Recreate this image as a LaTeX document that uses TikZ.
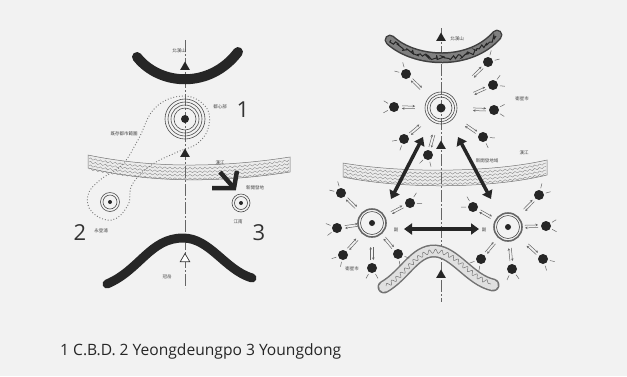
\documentclass[tikz,border=0pt]{standalone}
\usepackage{fontspec}
\setsansfont{Open Sans}
\newfontfamily\cjk{Noto Sans CJK TC}
\usetikzlibrary{calc,arrows.meta,shapes.geometric,decorations.pathmorphing}
\tikzset{
  axisline/.style={black!60, line width=0.6pt, dash pattern=on 12pt off 2pt on 2pt off 2pt},
  mtn/.style={line width=10pt, black!85, line cap=round},
  tri/.style={regular polygon, regular polygon sides=3, fill=black!85, inner sep=0pt, minimum size=11pt},
  otri/.style={regular polygon, regular polygon sides=3, draw=black!80, fill=white, line width=0.7pt, inner sep=0pt, minimum size=11pt},
  ring/.style={draw=black!70, line width=0.6pt},
  sat/.style={circle, fill=black!85, inner sep=0pt, minimum size=10pt},
  lnk/.style={black!60, line width=0.5pt, -{Stealth[length=2.5pt,width=2.5pt]}},
  tick/.style={black!60, line width=0.5pt},
  tiny/.style={font=\cjk\fontsize{4.5}{5}\selectfont, text=black!75, inner sep=0pt},
  num/.style={font=\sffamily\fontsize{22}{24}\selectfont, text=black!80, inner sep=0pt},
  bigarr/.style={line width=3.5pt, black!85, {Triangle[length=8pt,width=11pt]}-{Triangle[length=8pt,width=11pt]}},
  band/.style={draw=black!55, fill=black!8, line width=0.5pt},
  wave/.style={black!45, line width=0.4pt, decorate, decoration={snake, amplitude=0.9pt, segment length=5pt}},
}
\newcommand\satl[2]{%
  \coordinate (A) at ($(#1)!8pt!(#2)$);
  \coordinate (B) at ($(#1)!21pt!(#2)$);
  \draw[lnk] ($(A)!1.3pt!90:(B)$) -- ($(B)!1.3pt!-90:(A)$);
  \draw[lnk] ($(B)!1.3pt!90:(A)$) -- ($(A)!1.3pt!-90:(B)$);
  \draw[tick] ($(#1)!7pt!150:(#2)$) -- ($(#1)!12pt!150:(#2)$);
  \draw[tick] ($(#1)!7pt!210:(#2)$) -- ($(#1)!12pt!210:(#2)$);
}
\begin{document}
\begin{tikzpicture}[x=1pt,y=-1pt]
\useasboundingbox[fill=black!5] (0,0) rectangle (627,376);

% ================= LEFT DIAGRAM =================
% river band
\draw[band] (88,155) .. controls (150,168) and (220,168) .. (290,157)
  -- (290,172) .. controls (220,183) and (150,183) .. (88,168) -- cycle;
\foreach \k in {0,3.5,7,10.5}
  \draw[wave] (89,158.5+\k) .. controls (150,171+\k) and (220,171+\k) .. (289,160+\k);

% axis
\draw[axisline] (185,40) -- (185,288);

% mountains
\draw[mtn] (137,57) .. controls (160,86) and (210,89) .. (238,52);
\draw[mtn, line width=9pt] (107,284) .. controls (140,270) and (150,238) .. (183,238)
  .. controls (210,238) and (225,270) .. (252,278);

% dotted urban region
\draw[black!55, line width=0.9pt, dotted] plot[smooth cycle, tension=0.7] coordinates
  {(183,96) (205,106) (209,125) (198,143) (175,153) (150,166) (132,185) (128,205)
   (112,220) (92,212) (88,195) (100,180) (122,165) (138,140) (155,108)};

% CBD
\coordinate (cL) at (185,119);
\foreach \r in {20,17,14,11} \draw[ring] (cL) circle (\r pt);
\fill[black!85] (cL) circle (4pt);
% Yeongdeungpo
\coordinate (yL) at (110,202);
\foreach \r in {9.5,7} \draw[ring] (yL) circle (\r pt);
\fill[black!85] (yL) circle (2pt);
% Youngdong
\coordinate (dL) at (241,203);
\foreach \r in {9,6.5} \draw[ring] (dL) circle (\r pt);
\fill[black!85] (dL) circle (2pt);

% triangles
\node[tri] (tL1) at (185,67) {};
\node[tri] (tL2) at (185,154) {};
\node[otri] (tL3) at (185,259) {};

% thick arrow toward new development
\coordinate (kA) at (220,172);
\coordinate (kT) at (234,188);
\coordinate (kB) at (237,171);
\coordinate (kC) at (212,188);
\draw[black!85, line width=4.5pt] (kA) -- (kT);
\draw[black!85, line width=4.5pt, line join=miter] (kB) -- (kT) -- (kC);

% labels
\node[tiny] (lL1) at (179,51) {北漢山};
\node[tiny] (lL2) at (220,107) {都心部};
\node[tiny] (lL3) at (124,134) {既存都市範圍};
\node[tiny] (lL4) at (220,163) {漢江};
\node[tiny] (lL5) at (255,188) {新開發地};
\node[tiny] (lL6) at (238,222) {江南};
\node[tiny] (lL7) at (101,231) {永登浦};
\node[tiny] (lL8) at (167,277) {冠岳};
\node[num] (n1) at (243,110) {1};
\node[num] (n2) at (80,233) {2};
\node[num] (n3) at (259,233) {3};

% ================= RIGHT DIAGRAM =================
\draw[band] (343,163) .. controls (400,173) and (490,173) .. (547,160)
  -- (547,175) .. controls (490,189) and (400,189) .. (343,177) -- cycle;
\foreach \k in {0,3.5,7,10.5}
  \draw[wave] (344,166+\k) .. controls (400,176+\k) and (490,176+\k) .. (546,163+\k);

\draw[axisline] (441,28) -- (441,302);

% top mountain (textured)
\draw[line width=11pt, black!75, line cap=round] (390,40) .. controls (415,63) and (470,66) .. (497,35);
\draw[line width=8pt, black!50, line cap=round] (390,40) .. controls (415,63) and (470,66) .. (497,35);
\draw[black!85, line width=1pt, decorate, decoration={random steps, segment length=2pt, amplitude=2.5pt}]
  (391,40) .. controls (415,63) and (470,66) .. (496,36);
% bottom mountain (textured)
\draw[line width=13pt, black!55, line cap=round] (384,287) .. controls (405,275) and (415,250) .. (435,251)
  .. controls (455,252) and (470,280) .. (493,285);
\draw[line width=10pt, black!12, line cap=round] (384,287) .. controls (405,275) and (415,250) .. (435,251)
  .. controls (455,252) and (470,280) .. (493,285);
\draw[black!55, line width=0.5pt, decorate, decoration={snake, segment length=6pt, amplitude=2pt}]
  (386,286) .. controls (405,275) and (415,251) .. (435,252) .. controls (455,253) and (470,280) .. (491,284);

% centres
\coordinate (cR) at (441,108);
\foreach \r in {16,13.5,11} \draw[ring] (cR) circle (\r pt);
\fill[black!85] (cR) circle (4.5pt);
\coordinate (yR) at (372,223);
\draw[draw=black!60, line width=1.6pt] (yR) circle (14pt);
\draw[ring] (yR) circle (11.5pt);
\fill[black!85] (yR) circle (3pt);
\coordinate (dR) at (508,227);
\draw[draw=black!60, line width=1.6pt] (dR) circle (14pt);
\draw[ring] (dR) circle (11.5pt);
\fill[black!85] (dR) circle (3pt);

% triangles
\node[tri] (tR1) at (441,38) {};
\node[tri] (tR2) at (441,146) {};
\node[tri] (tR3) at (441,275) {};

% satellites around CBD
\foreach \n/\p in {c1/{(406,74)}, c2/{(488,62)}, c3/{(493,85)}, c4/{(394,107)},
                   c5/{(494,110)}, c6/{(483,137)}, c7/{(404,139)}, c8/{(428,155)}}{
  \node[sat] (\n) at \p {};
  \satl{\n}{cR}
}
% satellites around Yeongdeungpo
\foreach \n/\p in {y1/{(341,193)}, y2/{(410,203)}, y3/{(337,228)}, y4/{(343,255)},
                   y5/{(372,268)}, y6/{(398,254)}}{
  \node[sat] (\n) at \p {};
  \satl{\n}{yR}
}
% satellites around Youngdong
\foreach \n/\p in {d1/{(473,207)}, d2/{(539,195)}, d3/{(546,226)}, d4/{(543,259)},
                   d5/{(512,269)}, d6/{(481,259)}}{
  \node[sat] (\n) at \p {};
  \satl{\n}{dR}
}

% big arrows
\coordinate (bL1) at (391,199);
\coordinate (bL2) at (423,137);
\coordinate (bR1) at (458,137);
\coordinate (bR2) at (491,199);
\coordinate (bH1) at (404,229);
\coordinate (bH2) at (479,229);
\draw[bigarr] (bL1) -- (bL2);
\draw[bigarr] (bR1) -- (bR2);
\draw[bigarr] (bH1) -- (bH2);

% labels
\node[tiny] (lR1) at (457,39) {北漢山};
\node[tiny] (lR2) at (522,99) {衛星市};
\node[tiny] (lR3) at (524,153) {漢江};
\node[tiny] (lR4) at (487,161) {新開發地域};
\node[tiny] (lR5) at (396,230) {副};
\node[tiny] (lR6) at (484,230) {副};
\node[tiny] (lR7) at (352,269) {衛星市};

% caption
\node[anchor=base west, inner sep=0pt, font=\sffamily\fontsize{15.6}{18}\selectfont, text=black!85]
  (cap) at (60,355) {1 C.B.D. 2 Yeongdeungpo 3 Youngdong};
\end{tikzpicture}
\end{document}
